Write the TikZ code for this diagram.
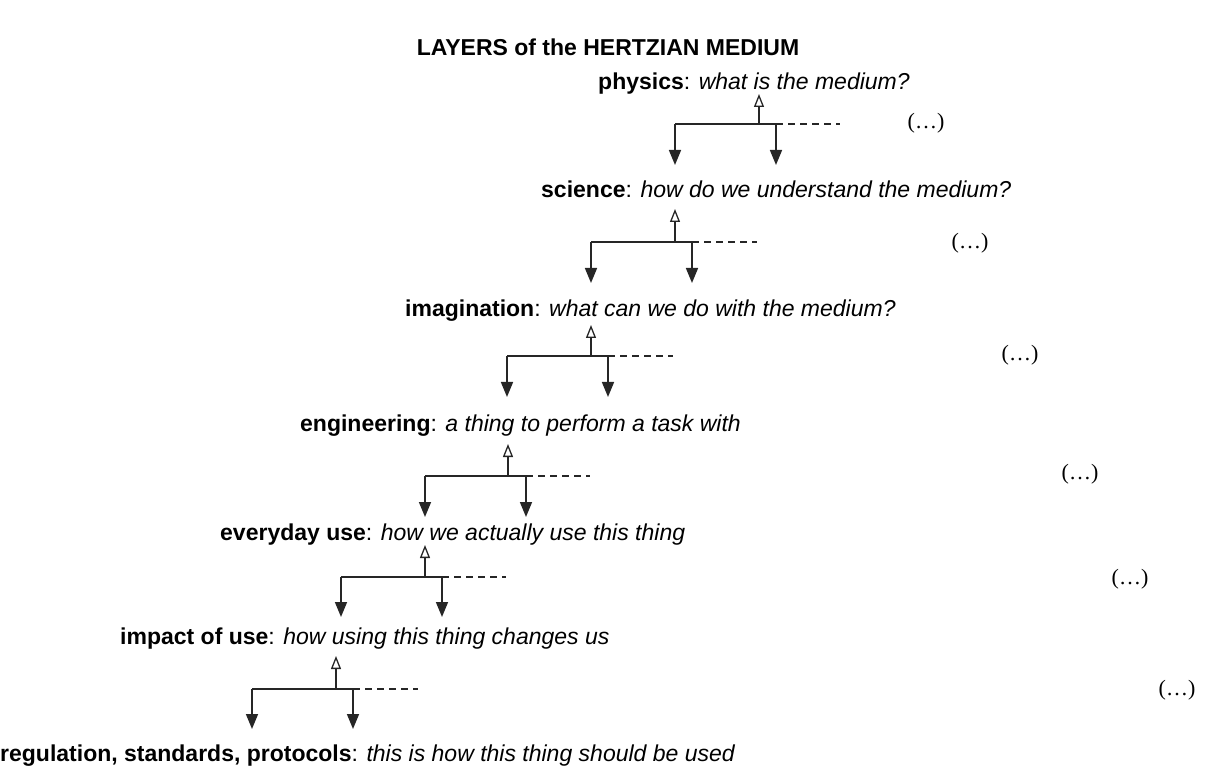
\documentclass[tikz,border=0pt]{standalone}
\usepackage{fontspec}
\setmainfont{Liberation Sans}
\newfontfamily\dotsfont{Liberation Serif}
\usetikzlibrary{arrows.meta}
\tikzset{
  lvl/.style={anchor=base west, inner sep=0pt, font=\fontsize{23}{26}\selectfont},
  ttl/.style={anchor=base, inner sep=0pt, font=\fontsize{23}{26}\selectfont\bfseries},
  dts/.style={inner sep=0pt, font=\fontsize{22}{24}\dotsfont},
  wire/.style={line width=1.6pt, black!85},
  uparr/.style={wire, -{Triangle[open, length=13pt, width=10pt, line width=1.3pt]}},
  downarr/.style={wire, -{Triangle[length=15pt, width=12pt]}},
  dashline/.style={line width=1.3pt, black!85, dash pattern=on 7pt off 5pt},
}
\begin{document}
\begin{tikzpicture}[x=1pt,y=-1pt]
\useasboundingbox (0,0) rectangle (1208,767);
\node[ttl] (title) at (608,56) {LAYERS of the HERTZIAN MEDIUM};
\node[lvl] (L1) at (598,90) {\textbf{physics}: \textit{what is the medium?}};
\node[lvl] (L2) at (541,198) {\textbf{science}: \textit{how do we understand the medium?}};
\node[lvl] (L3) at (405,317) {\textbf{imagination}: \textit{what can we do with the medium?}};
\node[lvl] (L4) at (300,431) {\textbf{engineering}: \textit{a thing to perform a task with}};
\node[lvl] (L5) at (220,540) {\textbf{everyday use}: \textit{how we actually use this thing}};
\node[lvl] (L6) at (120,644) {\textbf{impact of use}: \textit{how using this thing changes us}};
\node[lvl] (L7) at (0,761) {\textbf{regulation, standards, protocols}: \textit{this is how this thing should be used}};
% (…) labels
\node[dts] (D1) at (926,123) {(\dots)};
\node[dts] (D2) at (970,243) {(\dots)};
\node[dts] (D3) at (1020,355) {(\dots)};
\node[dts] (D4) at (1080,474) {(\dots)};
\node[dts] (D5) at (1130,579) {(\dots)};
\node[dts] (D6) at (1177,690) {(\dots)};
% junctions: hline y, left x, up x, right x, dash end, down end, up tip
\foreach \i/\y/\l/\u/\r/\e/\d/\t in {
  1/124/675/759/776/840/165/94,
  2/242/591/675/692/757/283/209,
  3/356/507/591/608/673/397/325,
  4/476/425/508/526/590/517/444,
  5/577/341/425/442/506/617/545,
  6/689/252/336/353/418/729/656}{
  \coordinate (l\i) at (\l,\y);
  \coordinate (u\i) at (\u,\y);
  \coordinate (r\i) at (\r,\y);
  \coordinate (e\i) at (\e,\y);
  \coordinate (ld\i) at (\l,\d);
  \coordinate (rd\i) at (\r,\d);
  \coordinate (ut\i) at (\u,\t);
  \draw[wire] (l\i) -- (r\i);
  \draw[uparr] (u\i) -- (ut\i);
  \draw[downarr] (l\i) -- (ld\i);
  \draw[downarr] (r\i) -- (rd\i);
  \draw[dashline] (r\i) -- (e\i);
}
\end{tikzpicture}
\end{document}
